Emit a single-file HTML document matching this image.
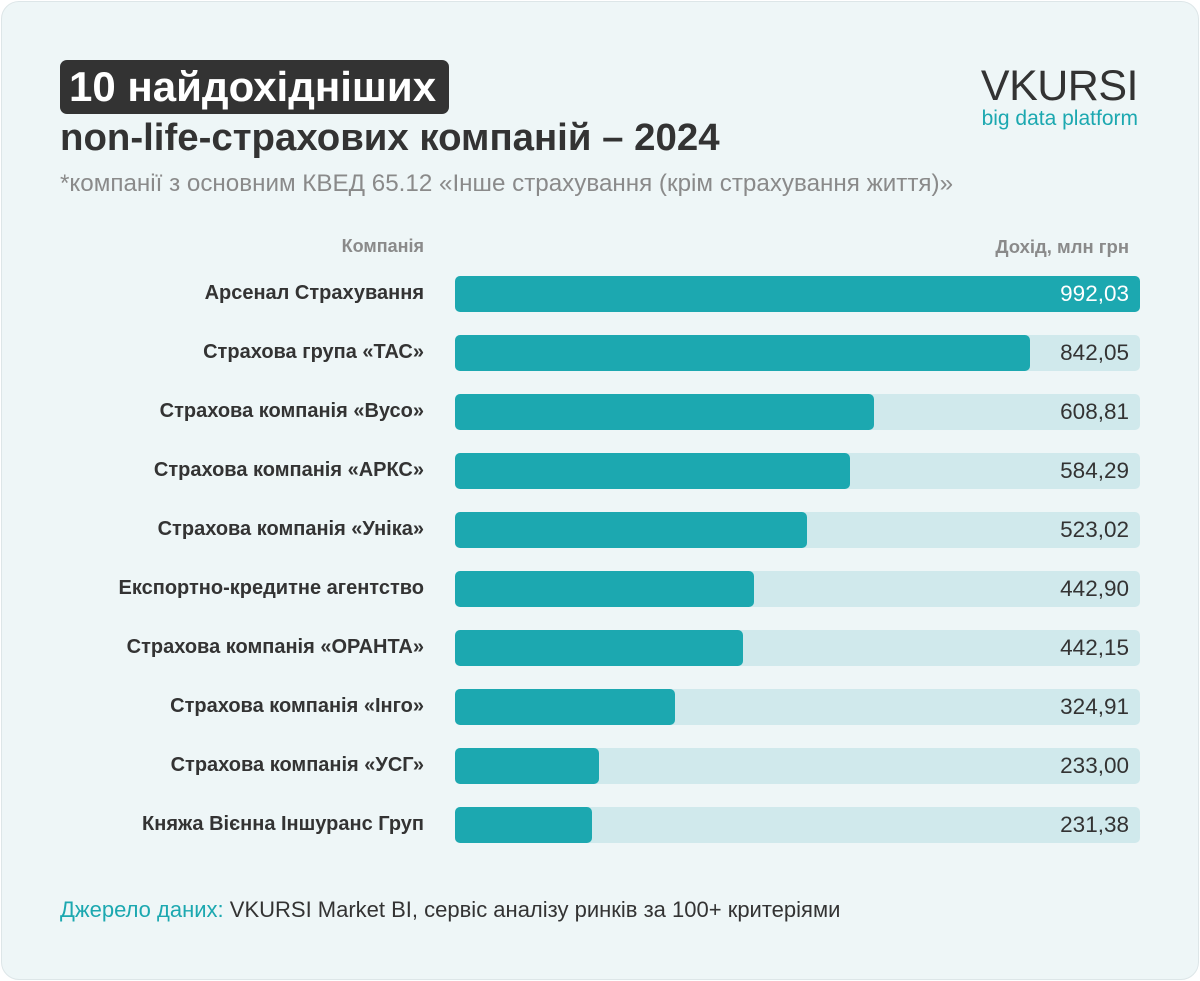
<!DOCTYPE html>
<html><head><meta charset="utf-8"><style>
body{margin:0;width:1200px;height:981px;background:#fff;font-family:"Liberation Sans",Roboto,sans-serif;position:relative;overflow:hidden}
.card{position:absolute;left:1px;top:1px;width:1196px;height:977px;background:#eef6f7;border:1px solid #dde6e8;border-radius:18px}
.a{position:absolute;white-space:nowrap}
.tbox{left:60px;top:60px;width:389px;height:54px;background:#333;border-radius:7px}
.lab{right:776px;font-size:20px;color:#333;font-weight:bold;text-align:right}
.bg{left:455px;width:685px;height:36px;background:#d0e9ec;border-radius:5px}
.bar{left:455px;height:36px;background:#1ca8b0;border-radius:5px}
.val{right:71px;font-size:22.5px;color:#333}
</style></head><body>
<div class="card"></div>
<div class="a tbox"></div>
<div class="a" style="left:69px;top:62px;font-size:42px;font-weight:bold;color:#fff;line-height:50px">10 найдохідніших</div>
<div class="a" style="left:60px;top:114px;font-size:38.4px;font-weight:bold;color:#333;line-height:48px">non-life-страхових компаній – 2024</div>
<div class="a" style="left:60px;top:170px;font-size:24.2px;color:#8a8a8a">*компанії з основним КВЕД 65.12 «Інше страхування (крім страхування життя)»</div>
<div class="a" style="right:62px;top:62px;font-size:43px;color:#333;letter-spacing:-0.5px">VKURSI</div>
<div class="a" style="right:62px;top:107px;font-size:21px;color:#1ca8b0">big data platform</div>
<div class="a" style="right:776px;top:236px;font-size:18px;font-weight:bold;color:#8a8a8a">Компанія</div>
<div class="a" style="right:71px;top:236px;font-size:18.5px;font-weight:bold;color:#8a8a8a">Дохід, млн грн</div>
<div id="rows"></div>
<div class="a" style="left:60px;top:897px;font-size:22px;color:#333"><span style="color:#1ca8b0">Джерело даних:</span> VKURSI Market BI, сервіс аналізу ринків за 100+ критеріями</div>
<script>
var d=[["Арсенал Страхування","992,03",1140],["Страхова група «ТАС»","842,05",1030],["Страхова компанія «Вусо»","608,81",874],["Страхова компанія «АРКС»","584,29",850],["Страхова компанія «Уніка»","523,02",807],["Експортно-кредитне агентство","442,90",754],["Страхова компанія «ОРАНТА»","442,15",743],["Страхова компанія «Інго»","324,91",675],["Страхова компанія «УСГ»","233,00",599],["Княжа Вієнна Іншуранс Груп","231,38",592]];
var h="";d.forEach(function(r,i){var y=276+i*59;var w=r[2]-455;
h+='<div class="a lab" style="top:'+(y+6)+'px">'+r[0]+'</div><div class="a bg" style="top:'+y+'px"></div><div class="a bar" style="top:'+y+'px;width:'+w+'px"></div><div class="a val" style="top:'+(y+5)+'px;color:'+(i==0?'#fff':'#333')+'">'+r[1]+'</div>';});
document.getElementById("rows").innerHTML=h;
</script>
</body></html>
